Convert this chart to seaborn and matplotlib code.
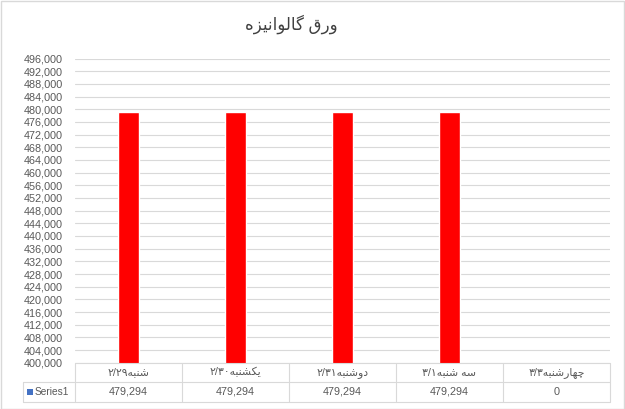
import numpy as np
import matplotlib
matplotlib.use("Agg")
import matplotlib.pyplot as plt
import matplotlib.transforms as mtransforms
from matplotlib.patches import Rectangle
from matplotlib.lines import Line2D
import seaborn as sns

# data
title = "ورق گالوانیزه"
categories = ["شنبه۲/۲۹", "یکشنبه۲/۳۰", "دوشنبه۲/۳۱", "سه شنبه۳/۱", "چهارشنبه۳/۳"]
series_name = "Series1"
values = [479294, 479294, 479294, 479294, 0]
y_ticks = list(range(400000, 496001, 4000))

# matplotlib has no arabic shaping, so map letters to presentation forms by hand
# (isolated, final, initial, medial)
FORMS = {
    "ا": (0xFE8D, 0xFE8E), "د": (0xFEA9, 0xFEAA), "ر": (0xFEAD, 0xFEAE),
    "ز": (0xFEAF, 0xFEB0), "و": (0xFEED, 0xFEEE),
    "ب": (0xFE8F, 0xFE90, 0xFE91, 0xFE92), "س": (0xFEB1, 0xFEB2, 0xFEB3, 0xFEB4),
    "ش": (0xFEB5, 0xFEB6, 0xFEB7, 0xFEB8), "ق": (0xFED5, 0xFED6, 0xFED7, 0xFED8),
    "ل": (0xFEDD, 0xFEDE, 0xFEDF, 0xFEE0), "ن": (0xFEE5, 0xFEE6, 0xFEE7, 0xFEE8),
    "ه": (0xFEE9, 0xFEEA, 0xFEEB, 0xFEEC), "ک": (0xFB8E, 0xFB8F, 0xFB90, 0xFB91),
    "گ": (0xFB92, 0xFB93, 0xFB94, 0xFB95), "چ": (0xFB7A, 0xFB7B, 0xFB7C, 0xFB7D),
    "ی": (0xFBFC, 0xFBFD, 0xFBFE, 0xFBFF),
}


def shape(word):
    out = []
    for i, ch in enumerate(word):
        if ch not in FORMS:
            out.append(ch)
            continue
        prev = word[i - 1] if i > 0 else ""
        nxt = word[i + 1] if i + 1 < len(word) else ""
        join_prev = prev in FORMS and len(FORMS[prev]) == 4
        join_next = len(FORMS[ch]) == 4 and nxt in FORMS
        f = FORMS[ch]
        if join_prev and join_next:
            out.append(chr(f[3]))
        elif join_prev:
            out.append(chr(f[1]))
        elif join_next:
            out.append(chr(f[2]))
        else:
            out.append(chr(f[0]))
    return "".join(out)


def visual(text):
    # split into number runs (kept LTR) and arabic runs (reversed)
    runs, cur, cur_num = [], "", None
    for ch in text:
        is_num = ("\u06F0" <= ch <= "\u06F9") or ch == "/"
        if cur and is_num != cur_num:
            runs.append((cur, cur_num))
            cur = ""
        cur += ch
        cur_num = is_num
    runs.append((cur, cur_num))
    parts = [r if n else shape(r)[::-1] for r, n in runs]
    return "".join(parts[::-1])


sns.set_style("white")
plt.rcParams['font.family'] = ['Liberation Sans', 'DejaVu Sans']

W, H = 625, 409
fig = plt.figure(figsize=(W / 100, H / 100), dpi=100)
top_px, bot_px, left_px, right_px = 58.6, 362.7, 75, 610
ax = fig.add_axes([left_px / W, 1 - bot_px / H, (right_px - left_px) / W, (bot_px - top_px) / H])

pos = np.arange(len(categories))
sns.barplot(x=pos, y=values, color="#ff0000", saturation=1, width=0.2, ax=ax)

ax.set_xlim(-0.5, len(categories) - 0.5)
ax.set_ylim(y_ticks[0], y_ticks[-1])
ax.set_yticks(y_ticks)
ax.set_yticklabels([f"{t:,}" for t in y_ticks])
ax.set_xticks([])
ax.set_xlabel("")
ax.set_ylabel("")
ax.yaxis.grid(True, color="#d9d9d9", linewidth=0.8)
ax.set_axisbelow(True)
ax.tick_params(axis="y", length=0, pad=9, labelsize=7.8, labelcolor="#595959")
for s in ax.spines.values():
    s.set_visible(False)

# data table under the plot
lc = "#d9d9d9"
trans = mtransforms.blended_transform_factory(ax.transData, fig.transFigure)
y_head_top = 1 - bot_px / H
y_mid = 1 - 382 / H
y_bot = 1 - 402 / H
x0, x1 = -0.5, len(categories) - 0.5
fig.add_artist(Line2D([x0, x1], [y_head_top] * 2, color=lc, lw=0.8, transform=trans))
fig.add_artist(Line2D([x0, x1], [y_mid] * 2, color=lc, lw=0.8, transform=trans))
fig.add_artist(Line2D([x0, x1], [y_bot] * 2, color=lc, lw=0.8, transform=trans))
for i in range(len(categories) + 1):
    fig.add_artist(Line2D([x0 + i] * 2, [y_head_top, y_bot], color=lc, lw=0.8, transform=trans))
# series cell
fig.add_artist(Line2D([23 / W, left_px / W], [y_mid] * 2, color=lc, lw=0.8, transform=fig.transFigure))
fig.add_artist(Line2D([23 / W, left_px / W], [y_bot] * 2, color=lc, lw=0.8, transform=fig.transFigure))
fig.add_artist(Line2D([23 / W] * 2, [y_mid, y_bot], color=lc, lw=0.8, transform=fig.transFigure))
fig.add_artist(Rectangle((27 / W, 1 - 394.5 / H), 6 / W, 6 / H, facecolor="#4472c4",
                         edgecolor="none", transform=fig.transFigure))
fig.text(35 / W, (y_mid + y_bot) / 2, series_name, ha="left", va="center",
         fontsize=7.3, color="#595959")

for i, (cat, v) in enumerate(zip(categories, values)):
    ax.text(i, (y_head_top + y_mid) / 2, visual(cat), transform=trans, ha="center",
            va="center", fontsize=7.8, color="#595959")
    ax.text(i, (y_mid + y_bot) / 2, f"{v:,}", transform=trans, ha="center",
            va="center", fontsize=7.8, color="#595959")

fig.text(291 / W, 1 - 24 / H, visual(title), ha="center", va="center",
         fontsize=12, color="#404040")

fig.add_artist(Rectangle((0.5 / W, 0.5 / H), (W - 1.5) / W, (H - 1.5) / H, fill=False,
                         edgecolor="#d9d9d9", lw=1, transform=fig.transFigure))

fig.savefig("out.png", dpi=100)
